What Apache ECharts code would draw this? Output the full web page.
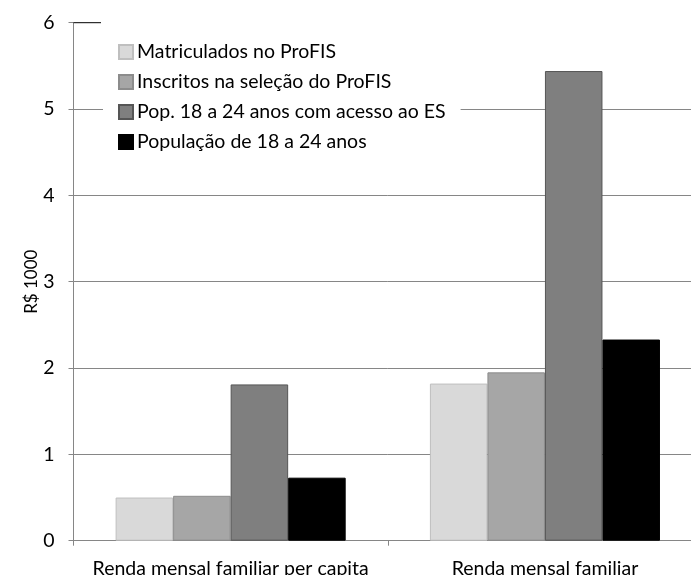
<!DOCTYPE html>
<html>
<head>
<meta charset="utf-8">
<script src="https://cdn.jsdelivr.net/npm/echarts@6/dist/echarts.min.js"></script>
<style>
html,body{margin:0;padding:0;background:#fff;overflow:hidden;}
#chart{width:712px;height:575px;}
</style>
</head>
<body>
<div id="chart"></div>
<script>
const categories = ['Renda mensal familiar per capita', 'Renda mensal familiar'];
const seriesNames = ['Matriculados no ProFIS', 'Inscritos na seleção do ProFIS', 'Pop. 18 a 24 anos com acesso ao ES', 'População de 18 a 24 anos'];
const matriculados = [0.50, 1.82];
const inscritos = [0.52, 1.95];
const popAcessoES = [1.81, 5.44];
const pop18a24 = [0.73, 2.33];
const yTicks = [0, 1, 2, 3, 4, 5, 6];

const fills = ['#d9d9d9', '#a6a6a6', '#7f7f7f', '#000000'];
const borders = ['#bfbfbf', '#8c8c8c', '#555555', '#000000'];
const values = [matriculados, inscritos, popAcessoES, pop18a24];
const FONT = 'Lato';
const FS = 19.5;

const chart = echarts.init(document.getElementById('chart'), null, {renderer: 'canvas'});
chart.setOption({
  animation: false,
  backgroundColor: '#fff',
  textStyle: {fontFamily: FONT},
  grid: {left: 73.5, top: 22.7, width: 628.6, height: 518, containLabel: false, outerBoundsMode: 'none'},
  legend: {
    orient: 'vertical',
    left: 103,
    top: 20,
    padding: [21, 15, 12, 15],
    backgroundColor: '#fff',
    itemWidth: 14,
    itemHeight: 14,
    itemGap: 8,
    icon: 'rect',
    textStyle: {fontFamily: FONT, fontSize: FS, color: '#000', lineHeight: 22, padding: [0, 0, 0, -1]},
    data: seriesNames,
    z: 10
  },
  xAxis: {
    type: 'category',
    data: categories,
    axisLine: {lineStyle: {color: '#868686', width: 1}},
    axisTick: {show: true, length: 5, interval: 0, lineStyle: {color: '#868686'}},
    axisLabel: {fontFamily: FONT, fontSize: FS, color: '#000', margin: 18, interval: 0, hideOverlap: false},
    splitLine: {show: false}
  },
  yAxis: {
    type: 'value',
    min: yTicks[0],
    max: yTicks[yTicks.length - 1],
    interval: 1,
    name: 'R$ 1000',
    nameLocation: 'middle',
    nameGap: 33,
    nameMoveOverlap: false,
    nameRotate: 90,
    nameTextStyle: {fontFamily: FONT, fontSize: 17, color: '#000'},
    axisLine: {show: true, lineStyle: {color: '#868686', width: 1}},
    axisTick: {show: true, length: 5, lineStyle: {color: '#868686'}},
    axisLabel: {fontFamily: FONT, fontSize: FS, color: '#000', margin: 19},
    splitLine: {show: true, showMaxLine: false, lineStyle: {color: '#868686', width: 1}}
  },
  graphic: [{
    type: 'line',
    shape: {x1: 73.5, y1: 22.7, x2: 101, y2: 22.7},
    style: {stroke: '#000', lineWidth: 1},
    z: 20
  }],
  series: seriesNames.map((name, i) => ({
    name: name,
    type: 'bar',
    data: values[i],
    barGap: 0,
    barCategoryGap: '26.8%',
    itemStyle: {color: fills[i], borderColor: borders[i], borderWidth: 1}
  }))
});
</script>
</body>
</html>
